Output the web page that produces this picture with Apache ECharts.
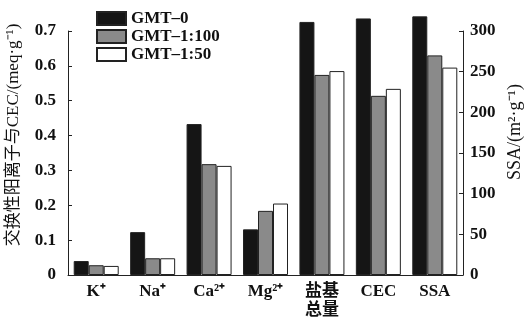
<!DOCTYPE html>
<html>
<head>
<meta charset="utf-8">
<script src="https://cdn.jsdelivr.net/npm/echarts@6/dist/echarts.min.js"></script>
<style>
  html, body { margin: 0; padding: 0; background: #fff; }
  #chart { width: 525px; height: 321px; }
</style>
</head>
<body>
<div id="chart"></div>
<script>
// Categories along the bottom axis
const categories = ['K⁺', 'Na⁺', 'Ca²⁺', 'Mg²⁺', '盐基\n总量', 'CEC', 'SSA'];
const seriesNames = ['GMT–0', 'GMT–1:100', 'GMT–1:50'];

// Exchangeable cations and CEC, meq·g⁻¹ (left axis); SSA slot left empty
const gmt0   = [0.040, 0.123, 0.433, 0.131, 0.726, 0.736, null];
const gmt100 = [0.028, 0.048, 0.318, 0.184, 0.574, 0.514, null];
const gmt50  = [0.026, 0.048, 0.313, 0.205, 0.585, 0.534, null];

// Specific surface area, m²·g⁻¹ (right axis); only the SSA slot is filled
const ssa0   = [null, null, null, null, null, null, 318];
const ssa100 = [null, null, null, null, null, null, 270];
const ssa50  = [null, null, null, null, null, null, 255];

const leftTicks = { min: 0, max: 0.7, interval: 0.1 };
const rightTicks = { min: 0, max: 300, interval: 50 };

const fills = ['#151515', '#8a8a8a', '#ffffff'];
const serif = '"Liberation Serif", "Times New Roman", serif';
const cjk = '"Liberation Serif", "Noto Sans CJK SC", serif';

const chart = echarts.init(document.getElementById('chart'), null, { renderer: 'canvas' });

function barSeries(name, data, i, xIdx, yIdx) {
  return {
    name: name,
    type: 'bar',
    xAxisIndex: xIdx,
    yAxisIndex: yIdx,
    data: data,
    barWidth: 15,
    barGap: '0%',
    clip: false,
    itemStyle: { color: fills[i], borderColor: '#222', borderWidth: 1 },
    emphasis: { disabled: true }
  };
}

const axisLine = { show: true, lineStyle: { color: '#222', width: 1 } };

chart.setOption({
  animation: false,
  backgroundColor: '#fff',
  grid: { left: 68, right: 62, top: 31, bottom: 46, containLabel: false },
  legend: {
    orient: 'vertical',
    left: 91,
    top: 5,
    itemWidth: 29,
    itemHeight: 13,
    itemGap: 1,
    icon: 'rect',
    data: seriesNames,
    textStyle: { fontFamily: serif, fontWeight: 'bold', fontSize: 17, color: '#111', padding: [0, 0, 0, 0] }
  },
  xAxis: [
    {
      type: 'category',
      data: categories,
      axisLine: axisLine,
      axisTick: { show: true, inside: true, alignWithLabel: true, length: 4, lineStyle: { color: '#222' } },
      axisLabel: { fontFamily: cjk, fontWeight: 'bold', fontSize: 17, color: '#111', margin: 7, lineHeight: 19 },
      splitLine: { show: false }
    },
    {
      type: 'category',
      data: categories,
      position: 'bottom',
      show: false
    }
  ],
  yAxis: [
    {
      type: 'value',
      min: leftTicks.min, max: leftTicks.max, interval: leftTicks.interval,
      axisLine: axisLine,
      axisTick: { show: true, inside: true, length: 4, lineStyle: { color: '#222' } },
      axisLabel: { fontFamily: serif, fontWeight: 'bold', fontSize: 17, color: '#111', margin: 12,
                   formatter: v => (v === 0 ? '0' : v.toFixed(1)) },
      splitLine: { show: false }
    },
    {
      type: 'value',
      position: 'right',
      min: rightTicks.min, max: rightTicks.max, interval: rightTicks.interval,
      axisLine: axisLine,
      axisTick: { show: true, inside: true, length: 4, lineStyle: { color: '#222' } },
      axisLabel: { fontFamily: serif, fontWeight: 'bold', fontSize: 17, color: '#111', margin: 7 },
      splitLine: { show: false }
    }
  ],
  graphic: [
    {
      type: 'text',
      x: 14, y: 135,
      rotation: Math.PI / 2,
      style: {
        text: '交换性阳离子与CEC/(meq·g⁻¹)',
        font: '17px "Liberation Serif", "Noto Sans CJK SC", serif',
        fill: '#111',
        align: 'center',
        verticalAlign: 'middle'
      }
    },
    {
      type: 'text',
      x: 515, y: 132,
      rotation: Math.PI / 2,
      style: {
        text: 'SSA/(m²·g⁻¹)',
        font: '18px "Liberation Serif", serif',
        fill: '#111',
        align: 'center',
        verticalAlign: 'middle'
      }
    }
  ],
  series: [
    barSeries(seriesNames[0], gmt0, 0, 0, 0),
    barSeries(seriesNames[1], gmt100, 1, 0, 0),
    barSeries(seriesNames[2], gmt50, 2, 0, 0),
    barSeries(seriesNames[0], ssa0, 0, 1, 1),
    barSeries(seriesNames[1], ssa100, 1, 1, 1),
    barSeries(seriesNames[2], ssa50, 2, 1, 1)
  ]
});
</script>
</body>
</html>
